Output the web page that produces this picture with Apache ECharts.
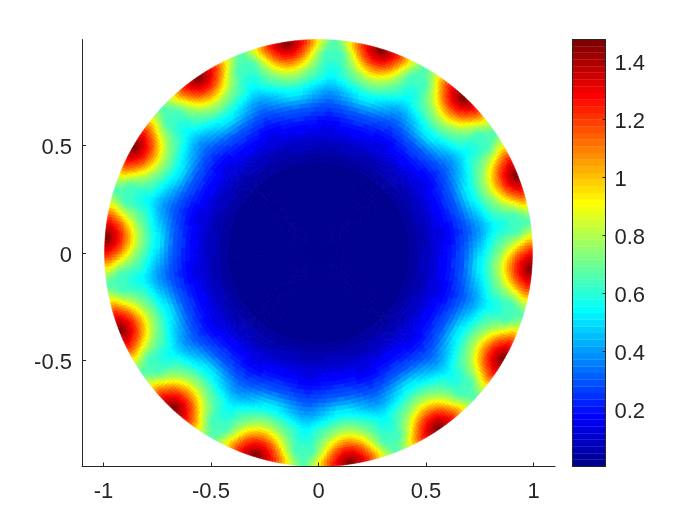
<!DOCTYPE html>
<html>
<head>
<meta charset="utf-8">
<style>
  html, body { margin: 0; padding: 0; background: #fff; }
  #main { width: 700px; height: 525px; }
</style>
<script src="https://cdn.jsdelivr.net/npm/echarts@6/dist/echarts.min.js"></script>
</head>
<body>
<div id="main"></div>
<script>
// ticks
const xTicks = [-1, -0.5, 0, 0.5, 1];
const yTicks = [-0.5, 0, 0.5];
const barTicks = [0.2, 0.4, 0.6, 0.8, 1, 1.2, 1.4];

// colour range
const barMin = 0.003;
const barMax = 1.476;
const jet = [
  '#00008f','#00009f','#0000af','#0000bf','#0000cf','#0000df','#0000ef','#0000ff',
  '#0010ff','#0020ff','#0030ff','#0040ff','#0050ff','#0060ff','#0070ff','#0080ff',
  '#008fff','#009fff','#00afff','#00bfff','#00cfff','#00dfff','#00efff','#00ffff',
  '#10ffef','#20ffdf','#30ffcf','#40ffbf','#50ffaf','#60ff9f','#70ff8f','#80ff80',
  '#8fff70','#9fff60','#afff50','#bfff40','#cfff30','#dfff20','#efff10','#ffff00',
  '#ffef00','#ffdf00','#ffcf00','#ffbf00','#ffaf00','#ff9f00','#ff8f00','#ff8000',
  '#ff7000','#ff6000','#ff5000','#ff4000','#ff3000','#ff2000','#ff1000','#ff0000',
  '#ef0000','#df0000','#cf0000','#bf0000','#af0000','#9f0000','#8f0000','#800000'
];

// angle of each hot spot on the rim, degrees
const lobeAngles = [98.6, 124.3, 150, 175.7, 201.4, 227.1, 252.9, 278.6, 304.3, 330, 355.7, 21.4, 47.1, 72.9];
// width of one cell, degrees (a hot spot spans 32 cells)
const cellAngle = 0.80357;
const diskRadius = 0.995;

// ring borders from the rim inwards, one more than the rows below
const ringEdges = [1, .988, .976, .964, .952, .94, .928, .916, .904, .892, .88, .868, .856, .844, .832, .82, .808, .796, .784, .772, .76,
  .74, .72, .70, .68, .66, .64, .62, .60, .58, .56,
  .54, .52, .50, .48, .46, .44, .42, .40, .37, .34, .30, .25, .18, .10, 0];

const lobeValues = [
  [1.46, 1.42, 1.38, 1.34, 1.30, 1.25, 1.20, 1.15, 1.08, 1.00, .93, .85, .79, .74, .70, .67],
  [1.43, 1.41, 1.38, 1.34, 1.30, 1.25, 1.20, 1.15, 1.08, 1.01, .93, .86, .80, .74, .70, .66],
  [1.39, 1.38, 1.35, 1.315, 1.27, 1.22, 1.175, 1.115, 1.04, .97, .88, .81, .76, .71, .675, .66],
  [1.35, 1.34, 1.315, 1.28, 1.24, 1.195, 1.145, 1.08, 1.01, .93, .86, .795, .74, .70, .665, .65],
  [1.31, 1.30, 1.275, 1.24, 1.20, 1.155, 1.10, 1.04, .965, .885, .82, .765, .71, .665, .65, .645],
  [1.26, 1.25, 1.225, 1.195, 1.165, 1.115, 1.055, 1.00, .92, .85, .785, .735, .69, .64, .635, .63],
  [1.21, 1.20, 1.18, 1.155, 1.11, 1.065, 1.01, .94, .88, .81, .765, .715, .67, .64, .635, .63],
  [1.15, 1.145, 1.12, 1.10, 1.06, 1.015, .96, .90, .84, .79, .74, .705, .66, .635, .63, .625],
  [1.09, 1.08, 1.06, 1.035, 1.00, .955, .91, .86, .805, .76, .72, .685, .65, .625, .62, .615],
  [1.03, 1.02, 1.00, .975, .94, .905, .86, .82, .77, .74, .705, .675, .64, .61, .605, .60],
  [.95, .95, .93, .905, .88, .85, .815, .78, .745, .72, .695, .66, .635, .605, .595, .59],
  [.885, .88, .87, .85, .825, .80, .775, .74, .715, .69, .665, .64, .615, .59, .585, .58],
  [.83, .82, .81, .79, .775, .755, .735, .715, .695, .67, .65, .63, .605, .585, .57, .565],
  [.78, .775, .765, .755, .74, .725, .71, .69, .675, .655, .635, .62, .605, .585, .565, .555],
  [.74, .735, .73, .72, .705, .69, .675, .66, .645, .63, .61, .60, .585, .57, .555, .54],
  [.70, .695, .69, .68, .67, .66, .645, .63, .615, .60, .59, .575, .56, .545, .53, .515],
  [.66, .655, .65, .645, .635, .625, .615, .60, .585, .57, .555, .54, .525, .51, .50, .49],
  [.62, .62, .615, .605, .60, .585, .575, .565, .55, .535, .52, .51, .50, .49, .48, .47],
  [.585, .585, .58, .57, .565, .555, .545, .53, .52, .505, .495, .48, .47, .46, .45, .445],
  [.55, .55, .545, .54, .53, .52, .51, .50, .49, .475, .465, .455, .445, .435, .43, .42],
  [.52, .52, .515, .51, .50, .49, .48, .47, .46, .445, .435, .425, .415, .405, .40, .39],
  [.47, .47, .465, .46, .45, .445, .435, .425, .415, .405, .395, .385, .375, .37, .36, .355],
  [.41, .41, .405, .40, .395, .39, .385, .375, .37, .36, .35, .345, .335, .33, .325, .32],
  [.35, .35, .345, .345, .34, .335, .33, .325, .32, .315, .31, .30, .30, .29, .29, .285],
  [.30, .30, .30, .295, .295, .29, .285, .285, .28, .275, .27, .265, .265, .26, .26, .255],
  [.27, .27, .27, .265, .265, .26, .26, .255, .25, .25, .245, .24, .24, .235, .23, .23],
  [.235, .235, .235, .23, .23, .225, .225, .22, .22, .215, .21, .21, .205, .205, .20, .20],
  [.21, .21, .21, .205, .205, .20, .20, .195, .195, .19, .185, .185, .18, .18, .175, .175],
  [.185, .185, .185, .18, .18, .18, .175, .175, .17, .17, .165, .165, .16, .16, .155, .155],
  [.165, .165, .165, .16, .16, .16, .155, .155, .15, .15, .145, .145, .14, .14, .135, .135],
  [.14, .14, .14, .135, .135, .135, .135, .13, .13, .13, .13, .13, .125, .125, .125, .125],
  [.11, .11, .11, .11, .105, .105, .105, .105, .105, .105, .10, .10, .10, .10, .10, .10],
  [.095, .095, .095, .095, .095, .09, .09, .09, .09, .09, .09, .085, .085, .085, .085, .085],
  [.075, .075, .075, .075, .075, .075, .075, .075, .07, .07, .07, .07, .07, .07, .07, .07],
  [.06, .06, .06, .06, .06, .06, .06, .06, .055, .055, .055, .055, .055, .055, .055, .055],
  [.045, .045, .045, .045, .045, .045, .045, .045, .04, .04, .04, .04, .04, .04, .04, .04],
  [.035, .035, .035, .035, .035, .035, .035, .035, .032, .032, .032, .032, .032, .032, .032, .032]
];

// the middle of the disk has no hot spot pattern left, one value per ring
const coreValues = [.025, .022, .018, .015, .013, .012, .011, .01];

const textColor = '#262626';
const fontName = '"Liberation Sans", Arial, sans-serif';

function levelColor(v) {
  let i = Math.floor((v - barMin) / (barMax - barMin) * jet.length);
  return jet[Math.max(0, Math.min(jet.length - 1, i))];
}

// disk cells: [start angle, end angle, inner r, outer r, value]
let diskData = [];
lobeAngles.forEach(center => {
  lobeValues.forEach((row, ring) => {
    row.forEach((v, col) => {
      let a = center + col * cellAngle;
      diskData.push([a, a + cellAngle, ringEdges[ring + 1], ringEdges[ring], v]);
      a = center - (col + 1) * cellAngle;
      diskData.push([a, a + cellAngle, ringEdges[ring + 1], ringEdges[ring], v]);
    });
  });
  coreValues.forEach((v, i) => {
    let ring = lobeValues.length + i;
    for (let col = -4; col < 4; col++) {
      let a = center + col * cellAngle * 4;
      diskData.push([a, a + cellAngle * 4, ringEdges[ring + 1], ringEdges[ring], v]);
    }
  });
});

// colour bar cells: [low, high]
let barData = jet.map((c, i) => {
  let step = (barMax - barMin) / jet.length;
  return [barMin + i * step, barMin + (i + 1) * step];
});

function renderDiskCell(params, api) {
  let a0 = api.value(0) * Math.PI / 180;
  let a1 = api.value(1) * Math.PI / 180;
  let r0 = api.value(2) * diskRadius;
  let r1 = api.value(3) * diskRadius;
  let color = levelColor(api.value(4));
  let points = [
    api.coord([r0 * Math.cos(a0), r0 * Math.sin(a0)]),
    api.coord([r1 * Math.cos(a0), r1 * Math.sin(a0)]),
    api.coord([r1 * Math.cos(a1), r1 * Math.sin(a1)]),
    api.coord([r0 * Math.cos(a1), r0 * Math.sin(a1)])
  ];
  return {
    type: 'polygon',
    shape: { points: points },
    // thin stroke on the rim, thicker inside so no seams show
    style: { fill: color, stroke: color, lineWidth: api.value(3) === 1 ? 0.5 : 1 }
  };
}

function renderBarCell(params, api) {
  let low = api.coord([0, api.value(0)]);
  let high = api.coord([1, api.value(1)]);
  return {
    type: 'rect',
    shape: { x: low[0], y: high[1], width: high[0] - low[0], height: low[1] - high[1] },
    style: { fill: jet[params.dataIndex], stroke: jet[params.dataIndex], lineWidth: 0.3 }
  };
}

// labels sit a little below their ticks, as in the original
const tickLabel = {
  show: true,
  formatter: v => '{t|' + v + '}',
  rich: {
    t: { color: textColor, fontSize: 22, fontFamily: fontName, padding: [5, 0, 0, 0] }
  }
};

function plainAxis(extra) {
  return Object.assign({
    type: 'value',
    z: 5,
    splitLine: { show: false },
    axisLine: { show: true, onZero: false, lineStyle: { color: textColor, width: 1 } },
    axisTick: { show: false },
    axisLabel: { show: false }
  }, extra);
}

let chart = echarts.init(document.getElementById('main'), null, { renderer: 'canvas' });

let option = {
  animation: false,
  backgroundColor: '#ffffff',
  grid: [
    { left: 82, top: 39.5, width: 473, height: 427 },
    { left: 572.5, top: 39.5, width: 33, height: 427 }
  ],
  xAxis: [
    plainAxis({
      gridIndex: 0, min: -1.1, max: 1.1,
      axisTick: { show: true, inside: true, length: 4, customValues: xTicks, lineStyle: { color: textColor } },
      axisLabel: {
        show: true,
        margin: 14,
        customValues: xTicks,
        formatter: v => String(v),
        color: textColor,
        fontSize: 22,
        fontFamily: fontName
      }
    }),
    plainAxis({ gridIndex: 1, min: 0, max: 1, position: 'bottom' }),
    plainAxis({ gridIndex: 1, min: 0, max: 1, position: 'top' })
  ],
  yAxis: [
    plainAxis({
      gridIndex: 0, min: -0.995, max: 0.995,
      axisTick: { show: true, inside: true, length: 4, customValues: yTicks, lineStyle: { color: textColor } },
      axisLabel: Object.assign({}, tickLabel, { margin: 10, customValues: yTicks })
    }),
    plainAxis({
      gridIndex: 1, min: barMin, max: barMax, position: 'right',
      axisTick: { show: true, inside: true, length: 3, customValues: barTicks, lineStyle: { color: textColor } },
      axisLabel: Object.assign({}, tickLabel, { margin: 9, customValues: barTicks })
    }),
    plainAxis({ gridIndex: 1, min: barMin, max: barMax, position: 'left' })
  ],
  series: [
    {
      type: 'custom',
      xAxisIndex: 0,
      yAxisIndex: 0,
      coordinateSystem: 'cartesian2d',
      clip: false,
      silent: true,
      progressive: 0,
      encode: { x: 0, y: 2 },
      renderItem: renderDiskCell,
      data: diskData
    },
    {
      type: 'custom',
      xAxisIndex: 1,
      yAxisIndex: 1,
      coordinateSystem: 'cartesian2d',
      silent: true,
      progressive: 0,
      encode: { y: [0, 1] },
      renderItem: renderBarCell,
      data: barData
    }
  ]
};

chart.setOption(option);
</script>
</body>
</html>
